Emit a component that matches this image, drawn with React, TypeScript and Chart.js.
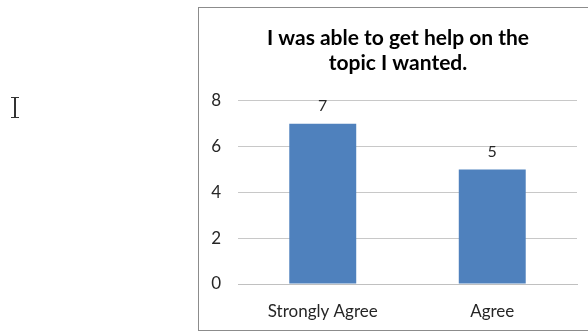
import React, { useEffect, useRef } from "react";
import { Chart, registerables } from "chart.js";

Chart.register(...registerables);

const categories = ["Strongly Agree", "Agree"];
const responses = [7, 5];
const titleLines = ["I was able to get help on the", "topic I wanted."];
const yTicks = [0, 2, 4, 6, 8];

const FONT = "Lato, 'Open Sans', sans-serif";

const valueLabels = {
  id: "valueLabels",
  afterDatasetsDraw(chart: any) {
    const ctx = chart.ctx;
    const meta = chart.getDatasetMeta(0);
    ctx.save();
    ctx.font = `16px ${FONT}`;
    ctx.fillStyle = "#262626";
    ctx.textAlign = "center";
    ctx.textBaseline = "bottom";
    meta.data.forEach((bar: any, i: number) => {
      ctx.fillText(String(responses[i]), bar.x, bar.y - 10);
    });
    ctx.restore();
  },
};

export default function App() {
  const ref = useRef<HTMLCanvasElement | null>(null);

  useEffect(() => {
    if (!ref.current) return;
    const chart = new Chart(ref.current, {
      type: "bar",
      data: {
        labels: categories,
        datasets: [
          {
            data: responses,
            backgroundColor: "#4f81bd",
            barPercentage: 0.395,
            categoryPercentage: 1,
          },
        ],
      },
      options: {
        animation: false,
        responsive: false,
        layout: { padding: 0 },
        plugins: {
          legend: { display: false },
          tooltip: { enabled: false },
          title: {
            display: true,
            text: titleLines,
            color: "#000",
            font: { family: FONT, size: 21, weight: "bold", lineHeight: 1.19 },
            padding: { top: 18, bottom: 25 },
          },
        },
        scales: {
          x: {
            grid: { display: false, drawTicks: false },
            border: { display: true, color: "#c0c0c0" },
            ticks: { color: "#262626", font: { family: FONT, size: 17 }, padding: 17 },
            afterFit: (s: any) => {
              s.height = 46;
            },
          },
          y: {
            min: 0,
            max: 8,
            afterBuildTicks: (s: any) => {
              s.ticks = yTicks.map((v) => ({ value: v }));
            },
            grid: { color: "#c8c8c8", drawTicks: false },
            border: { display: false },
            ticks: { color: "#262626", font: { family: FONT, size: 17 }, padding: 17 },
            afterFit: (s: any) => {
              s.width = 39;
            },
          },
          // empty right-hand margin axis
          gutter: {
            type: "linear",
            position: "right",
            grid: { display: false, drawTicks: false },
            border: { display: false },
            ticks: { display: false },
            afterFit: (s: any) => {
              s.width = 20;
            },
          },
        },
      },
      plugins: [valueLabels],
    });
    return () => chart.destroy();
  }, []);

  return (
    <div style={{ position: "fixed", left: 0, top: 0, width: 588, height: 331, background: "#fff", overflow: "hidden" }}>
      {/* text cursor */}
      <div style={{ position: "absolute", left: 14, top: 97, width: 1.5, height: 21, background: "#333" }} />
      <div style={{ position: "absolute", left: 11, top: 97, width: 8, height: 1, background: "#333" }} />
      <div style={{ position: "absolute", left: 11, top: 117, width: 8, height: 1, background: "#333" }} />
      <div
        style={{
          position: "absolute",
          left: 198,
          top: 7,
          width: 410,
          height: 322,
          border: "1px solid #8c8c8c",
          background: "#fff",
        }}
      >
        <canvas ref={ref} width={398} height={322} style={{ display: "block" }} />
      </div>
    </div>
  );
}
